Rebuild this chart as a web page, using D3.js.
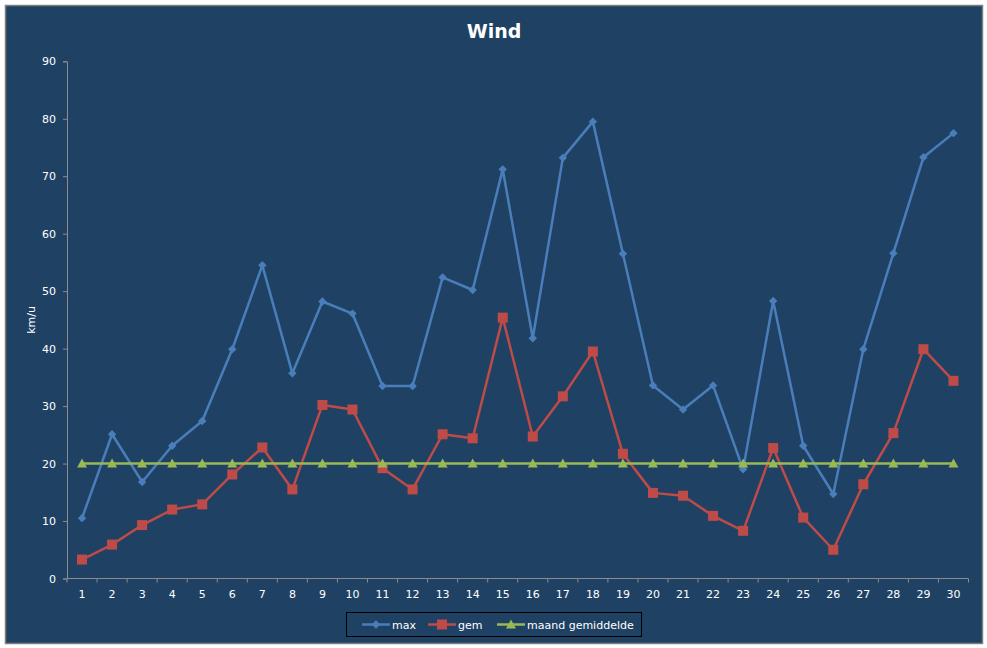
<!DOCTYPE html>
<html>
<head>
<meta charset="utf-8">
<script src="https://cdn.jsdelivr.net/npm/d3@7"></script>
<style>
  body { margin: 0; background: #fff; }
  svg text { font-family: "DejaVu Sans", Verdana, sans-serif; }
</style>
</head>
<body>
<svg id="chart" width="987" height="648"></svg>
<script>
// Wind chart — max / gem / maand gemiddelde per day

const days = d3.range(1, 31);
const maxWind = [10.5, 25.1, 16.8, 23.1, 27.4, 39.9, 54.5, 35.7, 48.2, 46.1,
                 33.5, 33.5, 52.4, 50.2, 71.2, 41.8, 73.2, 79.5, 56.5, 33.6,
                 29.4, 33.6, 19.0, 48.3, 23.1, 14.7, 39.9, 56.6, 73.3, 77.5];
const gemWind = [3.3, 5.9, 9.3, 12.0, 12.9, 18.1, 22.8, 15.5, 30.2, 29.4,
                 19.2, 15.5, 25.1, 24.4, 45.4, 24.7, 31.7, 39.5, 21.7, 14.9,
                 14.4, 10.9, 8.3, 22.7, 10.6, 5.0, 16.4, 25.3, 39.9, 34.4];
const maandGem = days.map(() => 20.0);
const yTicks = [0, 10, 20, 30, 40, 50, 60, 70, 80, 90];

const series = [
  { name: "max", values: maxWind, color: "#4A7EBB", marker: "diamond" },
  { name: "gem", values: gemWind, color: "#BE4B48", marker: "square" },
  { name: "maand gemiddelde", values: maandGem, color: "#98B954", marker: "triangle" }
];

const svg = d3.select("#chart");

// chart background + border
svg.append("rect")
  .attr("x", 5.5).attr("y", 5.5)
  .attr("width", 977).attr("height", 638)
  .attr("fill", "#1F4264")
  .attr("stroke", "#7F7F7F").attr("stroke-width", 1.5);

const plot = { left: 67, right: 968.5, top: 61.3, bottom: 578.5 };

const x = d3.scaleBand()
  .domain(days)
  .range([plot.left, plot.right]);

const y = d3.scaleLinear()
  .domain([0, 90])
  .range([plot.bottom, plot.top]);

const cx = d => x(d) + x.bandwidth() / 2;

// Title
svg.append("text")
  .attr("x", 494).attr("y", 38)
  .attr("text-anchor", "middle")
  .attr("fill", "#fff")
  .style("font-size", "19px")
  .style("font-weight", "bold")
  .text("Wind");

// Y axis
const yAxis = svg.append("g")
  .attr("transform", `translate(${plot.left},0)`)
  .call(d3.axisLeft(y).tickValues(yTicks).tickSize(4).tickPadding(7));
yAxis.select(".domain").attr("stroke", "#8C8C8C");
yAxis.selectAll(".tick line").attr("stroke", "#8C8C8C");
yAxis.selectAll(".tick text").attr("fill", "#fff").style("font-size", "11px");

svg.append("text")
  .attr("transform", `translate(35,${(plot.top + plot.bottom) / 2}) rotate(-90)`)
  .attr("text-anchor", "middle")
  .attr("fill", "#fff")
  .style("font-size", "11px")
  .text("km/u");

// X axis: labels centred in bands, tick marks on band boundaries
const xAxis = svg.append("g")
  .attr("transform", `translate(0,${plot.bottom})`)
  .call(d3.axisBottom(x).tickSize(0).tickPadding(12));
xAxis.select(".domain").remove();
xAxis.selectAll(".tick text").attr("fill", "#fff").style("font-size", "11px");

svg.append("line")
  .attr("x1", plot.left).attr("x2", plot.right)
  .attr("y1", plot.bottom).attr("y2", plot.bottom)
  .attr("stroke", "#8C8C8C");

svg.selectAll(".xtick")
  .data(days.concat([31]))
  .enter()
  .append("line")
  .attr("class", "xtick")
  .attr("x1", d => d === 31 ? plot.right : x(d))
  .attr("x2", d => d === 31 ? plot.right : x(d))
  .attr("y1", plot.bottom)
  .attr("y2", plot.bottom + 4)
  .attr("stroke", "#8C8C8C");

// markers
function markerPath(type) {
  if (type === "diamond") return d3.symbol(d3.symbolDiamond2, 45)();
  if (type === "square") return "M-5,-5H5V5H-5Z";
  return "M0,-5L5,4H-5Z";
}

const line = d3.line()
  .x((v, i) => cx(days[i]))
  .y(v => y(v));

series.forEach(s => {
  svg.append("path")
    .datum(s.values)
    .attr("fill", "none")
    .attr("stroke", s.color)
    .attr("stroke-width", 2.5)
    .attr("stroke-linejoin", "round")
    .attr("d", line);

  svg.selectAll(".m-" + s.marker)
    .data(s.values)
    .enter()
    .append("path")
    .attr("class", "m-" + s.marker)
    .attr("transform", (v, i) => `translate(${cx(days[i])},${y(v)})`)
    .attr("d", markerPath(s.marker))
    .attr("fill", s.color);
});

// Legend
const legend = svg.append("g");
legend.append("rect")
  .attr("x", 346.5).attr("y", 612.5)
  .attr("width", 295).attr("height", 24)
  .attr("fill", "none")
  .attr("stroke", "#000")
  .attr("stroke-width", 1);

const legendX = [362, 428, 497];
series.forEach((s, i) => {
  const lx = legendX[i];
  legend.append("line")
    .attr("x1", lx).attr("x2", lx + 28)
    .attr("y1", 624.5).attr("y2", 624.5)
    .attr("stroke", s.color).attr("stroke-width", 2.5);
  legend.append("path")
    .attr("transform", `translate(${lx + 14},624.5)`)
    .attr("d", markerPath(s.marker))
    .attr("fill", s.color);
  legend.append("text")
    .attr("x", lx + 30).attr("y", 628.5)
    .attr("fill", "#fff")
    .style("font-size", "11px")
    .text(s.name);
});
</script>
</body>
</html>
